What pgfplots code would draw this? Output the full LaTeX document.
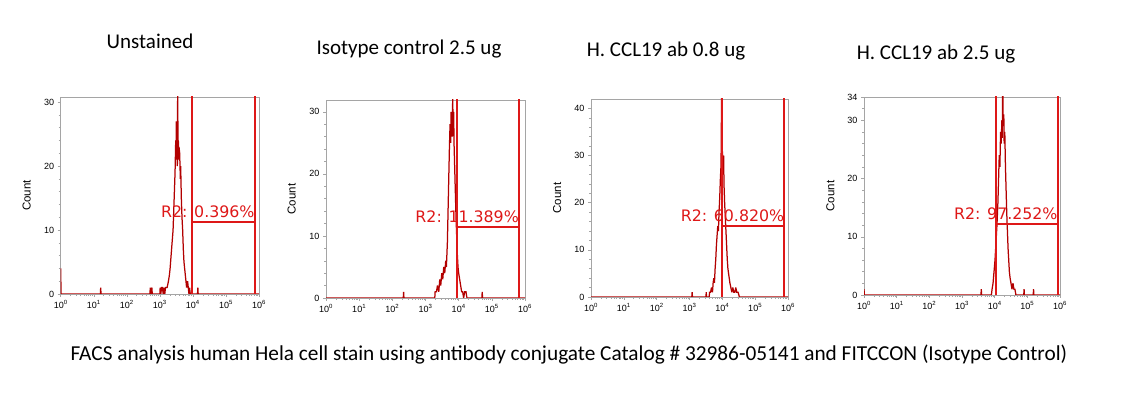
\documentclass[border=0pt]{standalone}
\usepackage{fontspec}
\setmainfont{Liberation Sans}
\newfontfamily\titlefont{Carlito}
\newfontfamily\gatefont{DejaVu Sans}
\usepackage{pgfplots}
\pgfplotsset{compat=1.18}
\definecolor{axgray}{RGB}{165,165,165}
\definecolor{histred}{RGB}{178,0,0}
\definecolor{gatered}{RGB}{222,24,24}
\tikzset{gatelabel/.style={text=gatered, anchor=base east, inner sep=0pt, yshift=4.5pt, font=\gatefont\fontsize{15.8}{16}\selectfont}}
\pgfplotsset{
  facs/.style={
    scale only axis, xmin=0, xmax=6, ymin=0,
    axis line style={draw=axgray, line width=0.6pt},
    every tick/.style={draw=axgray, line width=0.5pt},
    tick align=outside, tick pos=left,
    major tick length=3pt, minor tick length=2pt,
    xtick={0,1,2,3,4,5,6},
    xticklabels={10\textsuperscript{0},10\textsuperscript{1},10\textsuperscript{2},10\textsuperscript{3},10\textsuperscript{4},10\textsuperscript{5},10\textsuperscript{6}},
    minor xtick={0.301,0.477,0.602,0.699,0.778,0.845,0.903,0.954,
      1.301,1.477,1.602,1.699,1.778,1.845,1.903,1.954,
      2.301,2.477,2.602,2.699,2.778,2.845,2.903,2.954,
      3.301,3.477,3.602,3.699,3.778,3.845,3.903,3.954,
      4.301,4.477,4.602,4.699,4.778,4.845,4.903,4.954,
      5.301,5.477,5.602,5.699,5.778,5.845,5.903,5.954},
    tick label style={font=\fontsize{9}{10}\selectfont, text=black},
    /pgf/number format/assume math mode=true,
    ylabel={Count},
    every axis y label/.style={at={(axis description cs:-0.172,0.5)}, rotate=90, anchor=center, font=\fontsize{11.5}{12}\selectfont},
    clip=true,
  },
  hist/.style={histred, line width=1.25pt, sharp plot, no marks, line join=miter, miter limit=2},
  gate/.style={gatered, line width=1.8pt, no marks},
}
\begin{document}
\begin{tikzpicture}
\useasboundingbox (0,0) rectangle (1139pt,393pt);

% Panel 1: Unstained
\begin{axis}[facs, at={(60.7pt,99pt)}, anchor=south west, width=198.3pt, height=197pt, ymax=30.8,
  ytick={0,10,20,30}, minor ytick={2,4,6,8,12,14,16,18,22,24,26,28}]
\addplot[hist] coordinates {
(0,0)(0,4)(0.01,0)(1.20,0)(1.21,1)(1.22,0)(2.70,0)(2.71,1)(2.72,0)(2.76,1)(2.77,0)
(3.00,0)(3.01,1)(3.03,0)(3.05,1)(3.08,1)(3.10,0)(3.12,1)(3.15,0)(3.17,1)(3.20,1)
(3.22,1)(3.26,2)(3.29,3)(3.31,4)(3.34,6)(3.37,8)(3.40,10)(3.42,13)(3.44,16)(3.46,19)
(3.48,24)(3.49,21)(3.50,27)(3.51,25)(3.52,26)(3.53,20)(3.54,33)(3.55,22)(3.56,24)
(3.57,21)(3.58,23)(3.60,22)(3.62,18)(3.63,20)(3.65,15)(3.67,12)(3.69,10)(3.71,7)
(3.73,5)(3.75,4)(3.77,3)(3.79,2)(3.81,1)(3.84,2)(3.86,1)(3.88,0)(3.90,1)(3.92,0)
(4.14,0)(4.15,1)(4.16,0)(6,0)};
\addplot[gate] coordinates {(3.97,0)(3.97,40)};
\addplot[gate] coordinates {(5.87,0)(5.87,40)};
\addplot[gate] coordinates {(3.97,11.25)(5.87,11.25)};
\node[gatelabel] at (axis cs:5.87,11.25) {R2: 0.396\%};
\end{axis}

% Panel 2: Isotype control
\begin{axis}[facs, at={(326pt,95pt)}, anchor=south west, width=199pt, height=198pt, ymax=31.9,
  ytick={0,10,20,30}, minor ytick={2,4,6,8,12,14,16,18,22,24,26,28}]
\addplot[hist] coordinates {
(0,0)(2.33,0)(2.34,1)(2.35,0)(3.28,0)(3.29,1)(3.33,1)(3.36,2)(3.40,1)(3.43,3)(3.46,2)
(3.49,4)(3.52,3)(3.55,5)(3.58,4)(3.61,6)(3.63,5)(3.66,9)(3.68,14)(3.70,19)(3.72,24)
(3.74,28)(3.76,25)(3.77,30)(3.79,27)(3.80,29)(3.81,26)(3.82,33)(3.83,28)(3.85,30)
(3.86,25)(3.88,21)(3.90,17)(3.92,13)(3.94,10)(3.96,7)(3.98,5)(4.00,4)(4.03,3)(4.06,2)
(4.09,1)(4.12,1)(4.15,0)(4.18,1)(4.22,1)(4.25,0)(4.70,0)(4.71,1)(4.72,0)(6,0)};
\addplot[gate] coordinates {(3.94,0)(3.94,40)};
\addplot[gate] coordinates {(5.82,0)(5.82,40)};
\addplot[gate] coordinates {(3.94,11.45)(5.82,11.45)};
\node[gatelabel] at (axis cs:5.82,11.45) {R2: 11.389\%};
\end{axis}

% Panel 3: H. CCL19 ab 0.8 ug
\begin{axis}[facs, at={(591pt,96pt)}, anchor=south west, width=197pt, height=198pt, ymax=42,
  ytick={0,10,20,30,40}, minor ytick={2,4,6,8,12,14,16,18,22,24,26,28,32,34,36,38}]
\addplot[hist] coordinates {
(0,0)(3.07,0)(3.08,1)(3.09,0)(3.50,0)(3.51,1)(3.52,0)(3.60,0)(3.61,1)(3.64,1)(3.67,2)
(3.70,1)(3.72,3)(3.74,4)(3.76,3)(3.78,6)(3.80,8)(3.82,11)(3.84,13)(3.86,15)(3.88,14)
(3.90,18)(3.92,21)(3.94,25)(3.96,28)(3.98,45)(3.99,26)(4.00,31)(4.02,29)(4.04,30)
(4.05,24)(4.07,20)(4.09,17)(4.11,14)(4.13,11)(4.15,8)(4.17,6)(4.19,5)(4.21,4)(4.23,3)
(4.26,2)(4.29,1)(4.32,2)(4.35,1)(4.38,1)(4.41,2)(4.44,1)(4.48,1)(4.52,0)(6,0)};
\addplot[gate] coordinates {(4.00,0)(4.00,50)};
\addplot[gate] coordinates {(5.89,0)(5.89,50)};
\addplot[gate] coordinates {(4.00,15.0)(5.89,15.0)};
\node[gatelabel] at (axis cs:5.89,15.0) {R2: 60.820\%};
\end{axis}

% Panel 4: H. CCL19 ab 2.5 ug
\begin{axis}[facs, at={(864pt,98pt)}, anchor=south west, width=196pt, height=198pt, ymax=34,
  ytick={0,10,20,30,34}, minor ytick={2,4,6,8,12,14,16,18,22,24,26,28,32}]
\addplot[hist] coordinates {
(0,0)(0,1)(0.01,0)(3.58,0)(3.59,1)(3.60,0)(3.90,0)(3.92,1)(3.95,2)(3.98,4)(4.01,6)
(4.04,9)(4.07,12)(4.10,16)(4.12,20)(4.14,24)(4.16,22)(4.18,28)(4.20,26)(4.22,30)
(4.23,27)(4.25,38)(4.26,29)(4.28,31)(4.29,26)(4.31,28)(4.33,22)(4.35,18)(4.37,14)
(4.39,11)(4.41,8)(4.43,6)(4.45,4)(4.47,3)(4.50,2)(4.53,1)(4.56,2)(4.59,1)(4.62,1)
(4.65,0)(4.89,0)(4.90,1)(4.91,0)(5.18,0)(5.19,1)(5.20,0)(6,0)};
\addplot[gate] coordinates {(4.03,0)(4.03,40)};
\addplot[gate] coordinates {(5.93,0)(5.93,40)};
\addplot[gate] coordinates {(4.03,12.2)(5.93,12.2)};
\node[gatelabel] at (axis cs:5.93,12.2) {R2: 97.252\%};
\end{axis}

% Titles
\node[anchor=base, font=\titlefont\fontsize{21}{24}\selectfont] at (150pt,344pt) {Unstained};
\node[anchor=base, font=\titlefont\fontsize{21}{24}\selectfont] at (409pt,338pt) {Isotype control 2.5 ug};
\node[anchor=base, font=\titlefont\fontsize{21}{24}\selectfont] at (666pt,336pt) {H. CCL19 ab 0.8 ug};
\node[anchor=base, font=\titlefont\fontsize{21}{24}\selectfont] at (936pt,333pt) {H. CCL19 ab 2.5 ug};
% Caption
\node[anchor=base, font=\titlefont\fontsize{21.3}{24}\selectfont] at (569pt,32pt) {FACS analysis human Hela cell stain using antibody conjugate Catalog \# 32986-05141 and FITCCON (Isotype Control)};
\end{tikzpicture}
\end{document}
